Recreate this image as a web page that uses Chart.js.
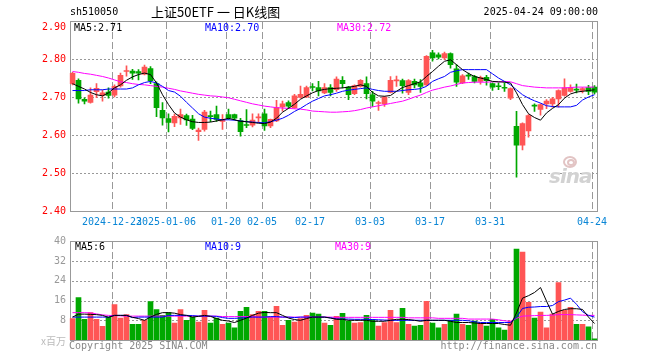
<!DOCTYPE html>
<html>
<head>
<meta charset="utf-8">
<script src="https://cdn.jsdelivr.net/npm/chart.js@4.4.1/dist/chart.umd.min.js"></script>
<style>
body { margin: 0; background: #fff; }
#wrap { position: relative; width: 660px; height: 360px; overflow: hidden; font-family: 'DejaVu Sans Mono', monospace; font-size: 10px; }
#wrap canvas { position: absolute; left: 0; }
.txt { position: absolute; white-space: nowrap; line-height: 12px; }
.eye { position: absolute; border: 2px solid #e2c4c4; border-radius: 50%; }
</style>
</head>
<body>
<div id="wrap">
    <canvas id="kline" width="660" height="232" style="top:0"></canvas>
    <canvas id="vol" width="660" height="128" style="top:232px"></canvas>

    <div class="txt" style="left:70px;top:6px">sh510050</div>
    <div class="txt" style="left:151px;top:3px;font:13px 'Noto Sans CJK SC';line-height:18px">上证50ETF 一 日K线图</div>
    <div class="txt" style="right:62px;top:6px">2025-04-24 09:00:00</div>
    <div class="txt" style="right:594px;top:21px;color:#f00">2.90</div>
    <div class="txt" style="left:74px;top:22px">MA5:2.71</div>
    <div class="txt" style="left:205px;top:22px;color:#00f">MA10:2.70</div>
    <div class="txt" style="left:337px;top:22px;color:#f0f">MA30:2.72</div>

    <div class="eye" style="left:563px;top:156px;width:10px;height:8px"></div>
    <div class="eye" style="left:567px;top:159px;width:4px;height:3px"></div>
    <div class="txt" style="left:549px;top:164px;font:italic bold 20px 'DejaVu Sans';color:#d2d2d2;line-height:24px;letter-spacing:-1px">sina</div>

    <div class="txt" style="left:75px;top:241px">MA5:6</div>
    <div class="txt" style="left:205px;top:241px;color:#00f">MA10:9</div>
    <div class="txt" style="left:335px;top:241px;color:#f0f">MA30:9</div>
    <div class="txt" style="right:594px;top:335px;color:#bbb;font-family:'Noto Sans CJK SC'">x百万</div>
    <div class="txt" style="left:69px;top:340px;color:#888">Copyright 2025 SINA.COM</div>
    <div class="txt" style="right:63px;top:340px;color:#888">http://finance.sina.com.cn</div>
</div>
<script>
// 交易日
const dates = [
    '2024-12-12', '2024-12-13', '2024-12-16', '2024-12-17', '2024-12-18', '2024-12-19', '2024-12-20',
    '2024-12-23', '2024-12-24', '2024-12-25', '2024-12-26', '2024-12-27', '2024-12-30', '2024-12-31',
    '2025-01-02', '2025-01-03', '2025-01-06', '2025-01-07', '2025-01-08', '2025-01-09', '2025-01-10',
    '2025-01-13', '2025-01-14', '2025-01-15', '2025-01-16', '2025-01-17', '2025-01-20', '2025-01-21',
    '2025-01-22', '2025-01-23', '2025-01-24', '2025-01-27', '2025-02-05', '2025-02-06', '2025-02-07',
    '2025-02-10', '2025-02-11', '2025-02-12', '2025-02-13', '2025-02-14', '2025-02-17', '2025-02-18',
    '2025-02-19', '2025-02-20', '2025-02-21', '2025-02-24', '2025-02-25', '2025-02-26', '2025-02-27',
    '2025-02-28', '2025-03-03', '2025-03-04', '2025-03-05', '2025-03-06', '2025-03-07', '2025-03-10',
    '2025-03-11', '2025-03-12', '2025-03-13', '2025-03-14', '2025-03-17', '2025-03-18', '2025-03-19',
    '2025-03-20', '2025-03-21', '2025-03-24', '2025-03-25', '2025-03-26', '2025-03-27', '2025-03-28',
    '2025-03-31', '2025-04-01', '2025-04-02', '2025-04-03', '2025-04-07', '2025-04-08', '2025-04-09',
    '2025-04-10', '2025-04-11', '2025-04-14', '2025-04-15', '2025-04-16', '2025-04-17', '2025-04-18',
    '2025-04-21', '2025-04-22', '2025-04-23', '2025-04-24'
];

// 刻度标签 (index -> text)
const tickIndex = [7, 16, 26, 32, 40, 50, 60, 70, 87];
const tickLabels = ['2024-12-23', '2025-01-06', '01-20', '02-05', '02-17', '03-03', '03-17', '03-31', '04-24'];
const priceGrid = [2.5, 2.6, 2.7, 2.8];
const volGrid = [8, 16, 24, 32];

const opens = [
    2.735, 2.744, 2.694, 2.686, 2.714, 2.704, 2.713, 2.705, 2.729, 2.767, 2.768, 2.767, 2.760, 2.775,
    2.735, 2.665, 2.643, 2.632, 2.645, 2.651, 2.642, 2.609, 2.615, 2.651, 2.654, 2.636, 2.654, 2.654,
    2.638, 2.627, 2.626, 2.645, 2.656, 2.624, 2.637, 2.674, 2.685, 2.672, 2.699, 2.700, 2.727, 2.725,
    2.711, 2.725, 2.719, 2.744, 2.726, 2.709, 2.728, 2.735, 2.706, 2.683, 2.682, 2.712, 2.742, 2.743,
    2.712, 2.741, 2.737, 2.732, 2.816, 2.811, 2.803, 2.814, 2.774, 2.737, 2.758, 2.754, 2.741, 2.752,
    2.735, 2.729, 2.725, 2.697, 2.623, 2.573, 2.611, 2.678, 2.667, 2.682, 2.682, 2.695, 2.704, 2.715,
    2.720, 2.717, 2.725, 2.726
];
const highs = [
    2.765, 2.748, 2.698, 2.724, 2.735, 2.718, 2.724, 2.732, 2.763, 2.782, 2.773, 2.772, 2.784, 2.780,
    2.740, 2.685, 2.656, 2.655, 2.668, 2.655, 2.652, 2.618, 2.665, 2.663, 2.676, 2.654, 2.668, 2.655,
    2.644, 2.667, 2.656, 2.656, 2.668, 2.642, 2.691, 2.689, 2.690, 2.707, 2.729, 2.729, 2.735, 2.741,
    2.735, 2.733, 2.753, 2.754, 2.728, 2.732, 2.746, 2.753, 2.715, 2.689, 2.702, 2.754, 2.755, 2.747,
    2.746, 2.747, 2.746, 2.809, 2.823, 2.816, 2.818, 2.816, 2.785, 2.759, 2.763, 2.757, 2.755, 2.757,
    2.737, 2.737, 2.737, 2.724, 2.662, 2.632, 2.654, 2.682, 2.682, 2.693, 2.699, 2.719, 2.748, 2.732,
    2.734, 2.725, 2.731, 2.730
];
const lows = [
    2.732, 2.684, 2.682, 2.684, 2.698, 2.689, 2.697, 2.700, 2.726, 2.755, 2.746, 2.745, 2.758, 2.735,
    2.648, 2.626, 2.608, 2.622, 2.628, 2.625, 2.614, 2.586, 2.610, 2.635, 2.636, 2.615, 2.641, 2.640,
    2.597, 2.619, 2.621, 2.632, 2.612, 2.619, 2.635, 2.663, 2.670, 2.670, 2.697, 2.698, 2.716, 2.703,
    2.709, 2.703, 2.715, 2.724, 2.693, 2.706, 2.726, 2.695, 2.675, 2.665, 2.675, 2.711, 2.728, 2.710,
    2.706, 2.724, 2.712, 2.730, 2.794, 2.800, 2.798, 2.776, 2.728, 2.735, 2.746, 2.737, 2.734, 2.731,
    2.717, 2.719, 2.715, 2.693, 2.489, 2.561, 2.594, 2.662, 2.652, 2.669, 2.673, 2.673, 2.702, 2.713,
    2.711, 2.711, 2.706, 2.708
];
const closes = [
    2.762, 2.695, 2.689, 2.705, 2.723, 2.711, 2.704, 2.728, 2.757, 2.769, 2.763, 2.763, 2.779, 2.743,
    2.672, 2.645, 2.633, 2.649, 2.654, 2.640, 2.617, 2.613, 2.660, 2.648, 2.641, 2.640, 2.645, 2.644,
    2.609, 2.625, 2.639, 2.647, 2.624, 2.641, 2.672, 2.682, 2.676, 2.703, 2.707, 2.725, 2.725, 2.716,
    2.725, 2.712, 2.747, 2.735, 2.706, 2.730, 2.744, 2.709, 2.689, 2.685, 2.700, 2.744, 2.745, 2.730,
    2.743, 2.732, 2.728, 2.807, 2.803, 2.805, 2.814, 2.785, 2.739, 2.756, 2.755, 2.741, 2.752, 2.743,
    2.726, 2.727, 2.723, 2.722, 2.573, 2.630, 2.651, 2.676, 2.680, 2.689, 2.695, 2.717, 2.724, 2.724,
    2.718, 2.722, 2.715, 2.713
];

// 均线
const ma5 = [
    2.735, 2.728, 2.721, 2.712, 2.706, 2.703, 2.711, 2.724, 2.732, 2.744, 2.753, 2.759, 2.763, 2.759,
    2.737, 2.706, 2.680, 2.658, 2.647, 2.640, 2.635, 2.633, 2.633, 2.634, 2.637, 2.640, 2.644, 2.640,
    2.636, 2.635, 2.633, 2.631, 2.630, 2.634, 2.644, 2.660, 2.670, 2.681, 2.694, 2.703, 2.711, 2.717,
    2.720, 2.722, 2.723, 2.724, 2.726, 2.728, 2.732, 2.728, 2.712, 2.703, 2.702, 2.704, 2.715, 2.725,
    2.730, 2.735, 2.740, 2.754, 2.767, 2.781, 2.794, 2.798, 2.785, 2.772, 2.762, 2.754, 2.750, 2.746,
    2.741, 2.740, 2.739, 2.737, 2.711, 2.680, 2.656, 2.646, 2.639, 2.658, 2.670, 2.680, 2.697, 2.708,
    2.713, 2.715, 2.717, 2.719
];
const ma10 = [
    2.717, 2.717, 2.717, 2.719, 2.719, 2.719, 2.721, 2.721, 2.721, 2.721, 2.724, 2.732, 2.738, 2.741,
    2.737, 2.728, 2.717, 2.713, 2.702, 2.686, 2.671, 2.656, 2.647, 2.644, 2.642, 2.640, 2.640, 2.639,
    2.637, 2.635, 2.634, 2.633, 2.632, 2.635, 2.639, 2.644, 2.652, 2.662, 2.670, 2.680, 2.689, 2.696,
    2.703, 2.706, 2.710, 2.715, 2.718, 2.720, 2.722, 2.724, 2.720, 2.717, 2.715, 2.715, 2.715, 2.717,
    2.719, 2.720, 2.722, 2.728, 2.741, 2.748, 2.754, 2.765, 2.769, 2.772, 2.772, 2.772, 2.772, 2.772,
    2.761, 2.750, 2.741, 2.732, 2.719, 2.706, 2.697, 2.690, 2.684, 2.677, 2.675, 2.674, 2.674, 2.674,
    2.678, 2.692, 2.700, 2.706
];
const ma30 = [
    2.767, 2.765, 2.762, 2.760, 2.757, 2.754, 2.750, 2.745, 2.740, 2.738, 2.735, 2.733, 2.732, 2.730,
    2.728, 2.726, 2.723, 2.720, 2.716, 2.713, 2.710, 2.707, 2.705, 2.703, 2.702, 2.700, 2.698, 2.694,
    2.690, 2.686, 2.682, 2.679, 2.676, 2.674, 2.672, 2.671, 2.670, 2.669, 2.668, 2.666, 2.663, 2.662,
    2.661, 2.660, 2.660, 2.661, 2.662, 2.664, 2.667, 2.671, 2.674, 2.677, 2.680, 2.683, 2.686, 2.689,
    2.694, 2.700, 2.705, 2.712, 2.718, 2.722, 2.726, 2.729, 2.733, 2.737, 2.738, 2.739, 2.739, 2.739,
    2.740, 2.740, 2.741, 2.740, 2.735, 2.730, 2.728, 2.726, 2.725, 2.724, 2.724, 2.724, 2.724, 2.725,
    2.726, 2.726, 2.726, 2.726
];

// 成交量 (百万)
const volumes = [
    8.7, 17.2, 8.4, 11.1, 8.4, 5.6, 9.3, 14.4, 8.9, 10.3, 6.4, 6.4, 8.0, 15.6,
    12.4, 10.0, 11.1, 6.9, 12.4, 8.0, 9.3, 7.3, 12.0, 6.9, 8.9, 6.4, 6.9, 4.9,
    11.6, 13.3, 10.3, 11.6, 11.6, 9.3, 13.7, 6.0, 8.0, 7.3, 8.7, 10.0, 10.9, 10.5,
    6.9, 6.0, 9.6, 10.8, 7.7, 6.9, 7.1, 10.0, 8.3, 5.7, 7.1, 12.0, 7.1, 12.9,
    6.4, 5.7, 6.0, 15.7, 6.9, 4.9, 6.4, 8.0, 10.5, 6.4, 6.0, 7.7, 6.9, 5.7,
    8.4, 4.9, 4.0, 7.7, 36.9, 35.7, 15.3, 8.9, 11.3, 4.9, 10.5, 23.3, 12.0, 13.3,
    6.4, 6.4, 5.3, 0.5
];
const volMa5 = [
    9.3, 10.5, 10.5, 10.4, 10.3, 10.0, 9.2, 10.0, 10.0, 10.0, 9.2, 8.7, 8.0, 9.3,
    10.4, 11.1, 11.1, 10.9, 10.3, 10.0, 9.3, 9.6, 10.0, 9.6, 8.7, 8.0, 7.7, 7.1,
    8.0, 8.9, 10.0, 10.9, 11.2, 11.1, 11.1, 10.0, 8.9, 8.3, 8.0, 8.7, 9.3, 9.3,
    9.3, 8.9, 8.4, 8.4, 8.0, 8.0, 8.0, 8.0, 7.6, 7.6, 7.6, 8.0, 8.4, 8.4,
    8.3, 8.0, 7.6, 8.0, 8.0, 8.0, 8.0, 7.6, 7.1, 7.1, 7.1, 6.9, 6.7, 6.7,
    6.7, 6.7, 6.3, 6.0, 11.0, 17.0, 18.0, 19.3, 21.3, 15.8, 10.5, 11.6, 12.4, 12.7,
    12.7, 12.4, 9.3, 6.7
];
const volMa10 = [
    9.3, 9.3, 9.3, 9.3, 9.3, 9.3, 9.3, 10.0, 10.0, 10.0, 9.1, 9.3, 9.3, 9.3,
    9.3, 9.3, 10.0, 10.0, 10.0, 10.0, 9.9, 9.7, 9.7, 9.7, 9.6, 9.1, 8.8, 8.8,
    8.9, 9.1, 9.3, 9.3, 9.3, 9.5, 9.5, 9.3, 9.3, 9.1, 9.3, 9.3, 9.3, 9.3,
    9.3, 9.0, 8.6, 8.5, 8.5, 8.4, 8.4, 8.4, 8.3, 8.2, 8.1, 8.0, 8.0, 8.0,
    8.0, 8.0, 8.0, 8.0, 8.0, 8.0, 8.0, 8.0, 8.0, 8.0, 7.8, 7.4, 7.1, 7.1,
    7.1, 7.1, 7.1, 7.1, 9.3, 12.8, 13.3, 13.4, 13.6, 13.6, 14.0, 15.6, 16.2, 17.0,
    14.5, 11.5, 10.0, 9.3
];
const volMa30 = [
    11.1, 11.1, 11.1, 11.0, 10.6, 10.2, 10.0, 9.9, 9.8, 9.7, 9.7, 9.7, 9.7, 9.7,
    9.7, 9.7, 9.7, 9.7, 9.7, 9.7, 9.7, 9.7, 9.7, 9.7, 9.7, 9.5, 9.5, 9.5,
    9.5, 9.5, 9.5, 9.3, 9.3, 9.3, 9.3, 9.3, 9.3, 9.3, 9.3, 9.3, 9.3, 9.3,
    9.3, 9.3, 9.2, 9.2, 9.2, 9.2, 9.2, 9.2, 9.2, 9.2, 9.2, 9.2, 9.2, 9.2,
    9.0, 9.0, 9.0, 9.0, 9.0, 8.8, 8.8, 8.8, 8.8, 8.8, 8.5, 8.5, 8.5, 8.5,
    8.5, 8.2, 7.8, 7.6, 8.8, 9.7, 9.8, 9.9, 10.0, 10.0, 10.1, 10.3, 10.3, 10.3,
    10.2, 10.1, 10.0, 10.0
];

// 颜色
const upColor = '#ff5555';
const downColor = '#00a800';
const gridGray = '#999999';
const frameGray = '#999999';
const monoFont = { family: 'DejaVu Sans Mono', size: 10 };

const candleColors = opens.map((o, i) => closes[i] >= o ? upColor : downColor);

// 网格 + 外框, 用图表自己的刻度换算位置 (虚线用小方块画出来)
const gridFrame = (hValues) => ({
    id: 'gridFrame',
    beforeDatasetsDraw(chart) {
        const { ctx, chartArea: a, scales } = chart;
        const top = Math.floor(a.top);
        const bottom = Math.floor(a.bottom);
        const left = Math.round(a.left);
        const right = Math.floor(a.right);
        ctx.save();
        ctx.fillStyle = gridGray;

        // 竖虚线
        tickIndex.forEach(i => {
            const x = Math.round(scales.x.getPixelForValue(i) - 2.5);
            for (let y = top + 1; y < bottom; y += 10) {
                ctx.fillRect(x, y, 1, Math.min(7, bottom - y));
            }
        });

        // 横点线
        hValues.forEach(v => {
            const y = Math.round(scales.y.getPixelForValue(v));
            for (let x = left + 2; x < right; x += 4) {
                ctx.fillRect(x, y, 2, 1);
            }
        });

        // 外框
        ctx.fillStyle = frameGray;
        ctx.fillRect(left, top, right - left + 1, 1);
        ctx.fillRect(left, bottom, right - left + 1, 1);
        ctx.fillRect(left, top, 1, bottom - top + 1);
        ctx.fillRect(right, top, 1, bottom - top + 1);
        ctx.restore();
    }
});

const xScale = (showLabels, height) => ({
    offset: true,
    grid: { display: false, drawTicks: false },
    border: { display: false },
    ticks: {
        display: showLabels,
        autoSkip: false,
        maxRotation: 0,
        minRotation: 0,
        padding: 5,
        labelOffset: -2.5,
        color: '#0a86d6',
        font: monoFont,
        callback: (v, i) => {
            const k = tickIndex.indexOf(i);
            return k >= 0 ? tickLabels[k] : '';
        }
    },
    afterFit: (s) => { s.height = height; }
});

const lineSet = (data, color) => ({
    type: 'line',
    data,
    borderColor: color,
    borderWidth: 1,
    pointRadius: 0,
    tension: 0,
    order: 0
});

const baseOptions = {
    responsive: false,
    animation: false,
    devicePixelRatio: 1,
    plugins: { legend: { display: false }, tooltip: { enabled: false } }
};

// K线图
new Chart(document.getElementById('kline'), {
    type: 'bar',
    data: {
        labels: dates,
        datasets: [
            lineSet(ma5, '#000000'),
            lineSet(ma10, '#0000ff'),
            lineSet(ma30, '#ff00ff'),
            {
                data: opens.map((o, i) => [o, closes[i]]),
                backgroundColor: candleColors,
                barThickness: 5,
                minBarLength: 1,
                grouped: false,
                order: 1
            },
            {
                data: lows.map((l, i) => [l, highs[i]]),
                backgroundColor: candleColors,
                barThickness: 1,
                grouped: false,
                order: 2
            }
        ]
    },
    options: {
        ...baseOptions,
        layout: { padding: { top: 21, right: 62.5, left: 0, bottom: 0 } },
        scales: {
            x: xScale(true, 21),
            y: {
                min: 2.4,
                max: 2.9,
                ticks: {
                    stepSize: 0.1,
                    color: '#ff0000',
                    padding: 3.5,
                    font: monoFont,
                    callback: (v) => Math.abs(v - 2.9) < 1e-6 ? '' : Number(v).toFixed(2)
                },
                grid: { display: false, drawTicks: false },
                border: { display: false },
                afterFit: (s) => { s.width = 69.5; }
            }
        }
    },
    plugins: [gridFrame(priceGrid)]
});

// 成交量
new Chart(document.getElementById('vol'), {
    type: 'bar',
    data: {
        labels: dates,
        datasets: [
            lineSet(volMa5, '#000000'),
            lineSet(volMa10, '#0000ff'),
            lineSet(volMa30, '#ff00ff'),
            {
                data: volumes,
                backgroundColor: candleColors,
                barThickness: 5,
                grouped: false,
                order: 1
            }
        ]
    },
    options: {
        ...baseOptions,
        layout: { padding: { top: 8, right: 62.5, left: 0, bottom: 0 } },
        scales: {
            x: xScale(false, 20),
            y: {
                min: 0,
                max: 40,
                ticks: {
                    stepSize: 8,
                    color: '#999999',
                    padding: 3.5,
                    font: monoFont,
                    callback: (v) => v === 0 ? '' : v
                },
                grid: { display: false, drawTicks: false },
                border: { display: false },
                afterFit: (s) => { s.width = 69.5; }
            }
        }
    },
    plugins: [gridFrame(volGrid)]
});
</script>
</body>
</html>
